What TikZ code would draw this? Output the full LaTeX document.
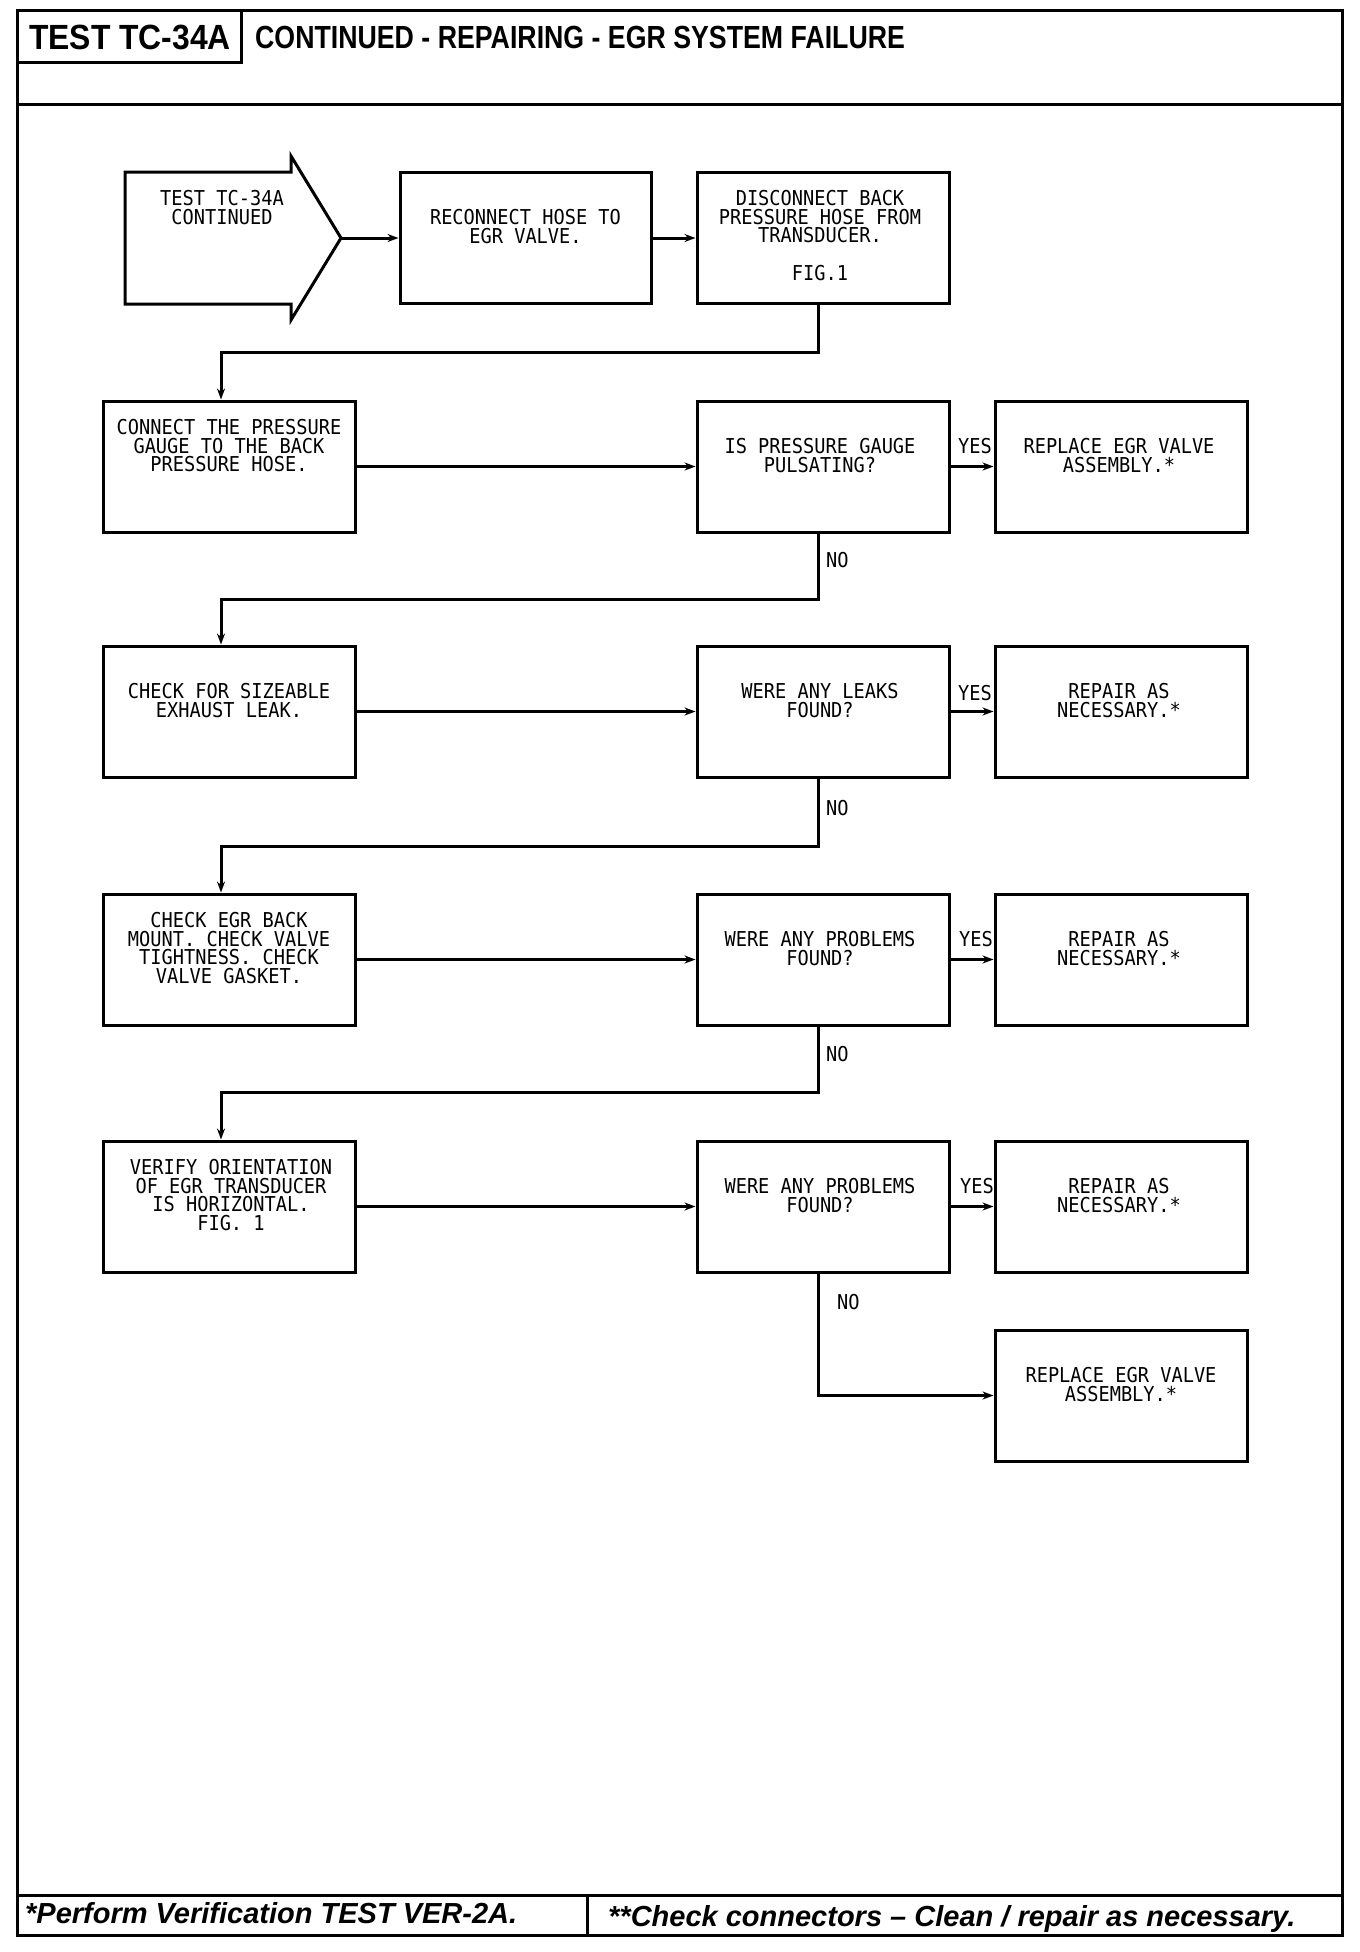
\documentclass[tikz,border=0pt]{standalone}
\usepackage{fontspec}
\setmainfont{Liberation Sans}
\newfontfamily\plotfont[FakeStretch=0.91]{DejaVu Sans Mono}
\newfontfamily\headA[FakeStretch=0.91]{Liberation Sans}
\newfontfamily\headB[FakeStretch=0.835]{Liberation Sans}
\usetikzlibrary{arrows.meta}
\tikzset{
  procbox/.style={draw, line width=3pt, minimum height=131pt, minimum width=252pt, inner sep=0pt},
  btxt/.style={font=\plotfont\fontsize{20.5pt}{18.75pt}\selectfont, align=center, inner sep=0pt, anchor=north},
  ltxt/.style={font=\plotfont\fontsize{20.5pt}{18.75pt}\selectfont, inner sep=0pt, anchor=north west},
  conn/.style={line width=3pt, -{Stealth[length=11pt,width=8pt]}},
  frameline/.style={line width=3pt},
}
\begin{document}
\begin{tikzpicture}[x=1pt,y=-1pt]
\useasboundingbox (0,0) rectangle (1360,1952);
% frame
\draw[frameline] (17,10) rectangle (1342,1935);
\draw[frameline] (241,10) -- (241,62) -- (17,62);
\draw[frameline] (17,104) -- (1342,104);
\draw[frameline] (17,1895) -- (1342,1895);
\draw[frameline] (587,1895) -- (587,1935);
% headings
\node[anchor=base west, inner sep=0pt, font=\headA\bfseries\fontsize{35pt}{35pt}\selectfont] (ttl) at (29,49) {TEST TC-34A};
\node[anchor=base west, inner sep=0pt, font=\headB\bfseries\fontsize{32pt}{32pt}\selectfont] (sub) at (255,48) {CONTINUED - REPAIRING - EGR SYSTEM FAILURE};
\node[anchor=base west, inner sep=0pt, font=\bfseries\itshape\fontsize{29pt}{29pt}\selectfont] (foot1) at (25,1923) {*Perform Verification TEST VER-2A.};
\node[anchor=base west, inner sep=0pt, font=\bfseries\itshape\fontsize{29pt}{29pt}\selectfont] (foot2) at (608,1926) {**Check connectors \textendash{} Clean / repair as necessary.};
% start arrow
\draw[line width=3pt, line join=miter] (125,172) -- (291,172) -- (291,156) -- (341,238) -- (291,320) -- (291,304) -- (125,304) -- cycle;
\coordinate (tip) at (341,238);
\node[btxt] (starttxt) at (222,190) {TEST TC-34A\\CONTINUED};
% row 1
\node[procbox, minimum width=251pt] (b2) at (525.5,238) {};
\node[procbox] (b3) at (823,238) {};
\node[btxt] at (525.5,209) {RECONNECT HOSE TO\\EGR VALVE.};
\node[btxt] at (820,190) {DISCONNECT BACK\\PRESSURE HOSE FROM\\TRANSDUCER.\\[18.75pt]FIG.1};
\draw[conn] (tip) -- (b2.west);
\draw[conn] (b2.east) -- (b3.west);
% row 2
\node[procbox] (l2) at (229,466.5) {};
\node[procbox] (m2) at (823,466.5) {};
\node[procbox] (r2) at (1121,466.5) {};
\node[btxt] at (229,419) {CONNECT THE PRESSURE\\GAUGE TO THE BACK\\PRESSURE HOSE.};
\node[btxt] at (820,438) {IS PRESSURE GAUGE\\PULSATING?};
\node[btxt] at (1119,438) {REPLACE EGR VALVE\\ASSEMBLY.*};
\coordinate (t0) at (221,352);
\draw[conn] ([xshift=-5pt]b3.south) |- (t0) -- (t0 |- l2.north);
\draw[conn] (l2.east) -- (m2.west);
\draw[conn] (m2.east) -- (r2.west);
\node[ltxt] at (958,438) {YES};
% row 3
\node[procbox] (l3) at (229,711.5) {};
\node[procbox] (m3) at (823,711.5) {};
\node[procbox] (r3) at (1121,711.5) {};
\node[btxt] at (229,683) {CHECK FOR SIZEABLE\\EXHAUST LEAK.};
\node[btxt] at (820,683) {WERE ANY LEAKS\\FOUND?};
\node[btxt] at (1119,683) {REPAIR AS\\NECESSARY.*};
\coordinate (t1) at (221,599);
\draw[conn] ([xshift=-5pt]m2.south) |- (t1) -- (t1 |- l3.north);
\node[ltxt] at (826,552) {NO};
\draw[conn] (l3.east) -- (m3.west);
\draw[conn] (m3.east) -- (r3.west);
\node[ltxt] at (958,685) {YES};
% row 4
\node[procbox] (l4) at (229,959.5) {};
\node[procbox] (m4) at (823,959.5) {};
\node[procbox] (r4) at (1121,959.5) {};
\node[btxt] at (229,912) {CHECK EGR BACK\\MOUNT. CHECK VALVE\\TIGHTNESS. CHECK\\VALVE GASKET.};
\node[btxt] at (820,931) {WERE ANY PROBLEMS\\FOUND?};
\node[btxt] at (1119,931) {REPAIR AS\\NECESSARY.*};
\coordinate (t2) at (221,846);
\draw[conn] ([xshift=-5pt]m3.south) |- (t2) -- (t2 |- l4.north);
\node[ltxt] at (826,800) {NO};
\draw[conn] (l4.east) -- (m4.west);
\draw[conn] (m4.east) -- (r4.west);
\node[ltxt] at (959,931) {YES};
% row 5
\node[procbox] (l5) at (229,1206.5) {};
\node[procbox] (m5) at (823,1206.5) {};
\node[procbox] (r5) at (1121,1206.5) {};
\node[btxt] at (231,1159) {VERIFY ORIENTATION\\OF EGR TRANSDUCER\\IS HORIZONTAL.\\FIG. 1};
\node[btxt] at (820,1178) {WERE ANY PROBLEMS\\FOUND?};
\node[btxt] at (1119,1178) {REPAIR AS\\NECESSARY.*};
\coordinate (t3) at (221,1092);
\draw[conn] ([xshift=-5pt]m4.south) |- (t3) -- (t3 |- l5.north);
\node[ltxt] at (826,1046) {NO};
\draw[conn] (l5.east) -- (m5.west);
\draw[conn] (m5.east) -- (r5.west);
\node[ltxt] at (960,1178) {YES};
% final
\node[procbox] (f) at (1121,1395.5) {};
\node[btxt] at (1121,1367) {REPLACE EGR VALVE\\ASSEMBLY.*};
\draw[conn] ([xshift=-5pt]m5.south) |- (f.west);
\node[ltxt] at (837,1294) {NO};
\end{tikzpicture}
\end{document}
